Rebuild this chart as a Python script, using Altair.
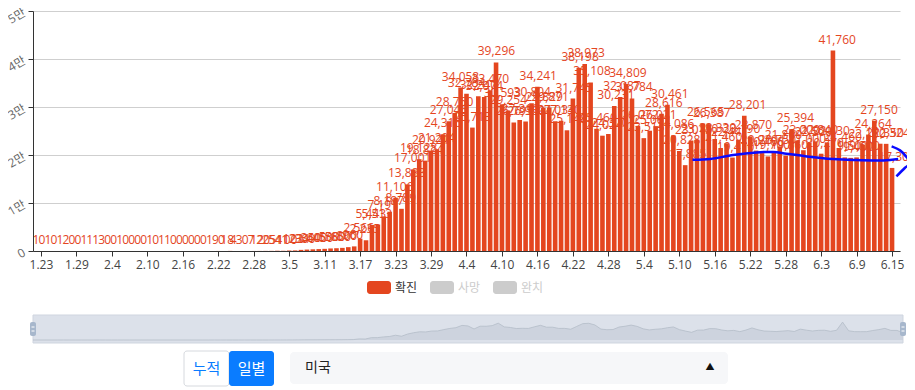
import altair as alt
import pandas as pd

# ---------------- data ----------------
tick_labels = ["1.23", "1.29", "2.4", "2.10", "2.16", "2.22", "2.28", "3.5", "3.11",
               "3.17", "3.23", "3.29", "4.4", "4.10", "4.16", "4.22", "4.28", "5.4",
               "5.10", "5.16", "5.22", "5.28", "6.3", "6.9", "6.15"]

confirmed = [
    1, 0, 1, 0, 1, 2, 0, 0, 1, 1,
    1, 3, 0, 0, 1, 0, 0, 0, 0, 1,
    0, 1, 1, 0, 0, 0, 0, 0, 0, 1,
    9, 0, 18, 4, 3, 0, 7, 12, 20, 25,
    54, 41, 100, 122, 234, 300, 350, 400, 450, 530,
    580, 650, 800, 960, 2566, 2235, 5443, 5513, 7191, 8187,
    11106, 8789, 13883, 17001, 19128, 18824, 20921, 21204, 24316, 27046,
    28760, 34058, 32784, 25713, 32240, 32074, 33470, 39296, 30593, 29254,
    26795, 27310, 26960, 30804, 34241, 29829, 29871, 27034, 27130, 25148,
    31745, 38198, 38973, 35108, 25460, 24024, 24370, 30231, 32087, 34809,
    31784, 26072, 23513, 25062, 26021, 28616, 30461, 24086, 20828, 17885,
    23015, 23180, 26565, 26387, 23330, 21460, 22441, 19470, 23190, 28201,
    23870, 20920, 20400, 19700, 20750, 21800, 19860, 25394, 23000, 21000,
    22500, 22840, 20270, 22630, 41760, 21460, 19500, 19400, 19500, 22150,
    24264, 27150, 22350, 22324, 17307,
]

# hand-drawn blue annotation (day index, value, stroke id)
note_x = [109.8, 112.8, 116.6, 120.5, 123.3, 125.5, 128.9, 133.3, 136.7, 141.7, 144.2,
          143.1, 144.5, 145.5, 146.2, 145.3, 143.9]
note_y = [19020, 19170, 20000, 20540, 20625, 20270, 19710, 19170, 18960, 18875, 19170,
          21790, 20960, 19710, 18330, 17290, 15540]
note_stroke = [0] * 11 + [1] * 6

legend_names = ["확진", "사망", "완치"]
button_names = ["누적", "일별"]
country = "미국"

# ---------------- styles ----------------
RED = "#e4461f"
FONT = "Noto Sans CJK KR"
NUMFONT = "Open Sans, Noto Sans CJK KR"
W, H = 867, 240

n = len(confirmed)
bars_df = pd.DataFrame({"idx": list(range(n)), "value": confirmed})
note_df = pd.DataFrame({"x": note_x, "y": note_y, "s": note_stroke,
                        "o": list(range(len(note_x)))})
one = pd.DataFrame({"k": [0]})

x_scale = alt.Scale(domain=[-0.5, n - 0.5], nice=False, zero=False)
y_scale = alt.Scale(domain=[0, 50000], nice=False)

label_arr = "[" + ",".join("'%s'" % t for t in tick_labels) + "]"

bars = alt.Chart(bars_df).mark_bar(size=4.6, color=RED).encode(
    x=alt.X("idx:Q", scale=x_scale,
            axis=alt.Axis(values=list(range(0, n, 6)), labelExpr=label_arr + "[datum.value / 6]",
                          title=None, grid=False, domainColor="#333", tickColor="#333",
                          labelColor="#444", labelFont=NUMFONT, labelFontSize=12,
                          labelPadding=3, tickSize=5, labelFlush=False, labelOverlap=False)),
    y=alt.Y("value:Q", scale=y_scale,
            axis=alt.Axis(values=[0, 10000, 20000, 30000, 40000, 50000],
                          labelExpr="datum.value == 0 ? '0' : (datum.value / 10000) + '만'",
                          title=None, grid=True, gridColor="#cfcfcf", domainColor="#333",
                          tickColor="#333", labelColor="#666", labelFont=NUMFONT,
                          labelFontSize=12, labelAngle=330, labelPadding=4, tickSize=5,
                          labelFlush=False)),
)

labels = alt.Chart(bars_df).mark_text(
    color=RED, font=NUMFONT, fontSize=12, baseline="bottom", dy=-4
).encode(
    x=alt.X("idx:Q", scale=x_scale, axis=None),
    y=alt.Y("value:Q", scale=y_scale, axis=None),
    text=alt.Text("value:Q", format=","),
)

note = alt.Chart(note_df).mark_line(
    color="#0a0aff", strokeWidth=2.5, interpolate="catmull-rom", clip=False
).encode(
    x=alt.X("x:Q", scale=x_scale, axis=None),
    y=alt.Y("y:Q", scale=y_scale, axis=None),
    detail="s:N",
    order="o:Q",
)

# legend (drawn)
legend_layers = []
legend_rect_colors = [RED, "#cccccc", "#cccccc"]
legend_text_colors = ["#333333", "#cccccc", "#cccccc"]
for i, name in enumerate(legend_names):
    x0 = 334 + 63 * i
    legend_layers.append(
        alt.Chart(one).mark_rect(color=legend_rect_colors[i], cornerRadius=3).encode(
            x=alt.value(x0), x2=alt.value(x0 + 24), y=alt.value(270), y2=alt.value(283)))
    legend_layers.append(
        alt.Chart(one).mark_text(text=name, color=legend_text_colors[i], font=FONT,
                                 fontSize=12, align="left", baseline="middle").encode(
            x=alt.value(x0 + 28), y=alt.value(276.5)))

# dataZoom slider
slider_bg = alt.Chart(one).mark_rect(fill="#dce1ea", stroke="#cfd5df", strokeWidth=1).encode(
    x=alt.value(0), x2=alt.value(870), y=alt.value(304), y2=alt.value(332))
slider_area = alt.Chart(bars_df).mark_area(
    color="#c6cdd8", line={"color": "#b4bcc8", "strokeWidth": 0.8}
).encode(
    x=alt.X("idx:Q", scale=alt.Scale(domain=[0, n - 1], range=[0, 870], nice=False, zero=False), axis=None),
    y=alt.Y("value:Q", scale=alt.Scale(domain=[0, 42000], range=[329, 311], nice=False), axis=None),
)
handles = []
for hx in [0, 870]:
    handles.append(alt.Chart(one).mark_rect(fill="#a7b7cc", cornerRadius=2).encode(
        x=alt.value(hx - 3), x2=alt.value(hx + 3), y=alt.value(311), y2=alt.value(325)))
    handles.append(alt.Chart(one).mark_rule(color="#ffffff", strokeWidth=1).encode(
        x=alt.value(hx - 1.5), x2=alt.value(hx + 1.5), y=alt.value(316)))
    handles.append(alt.Chart(one).mark_rule(color="#ffffff", strokeWidth=1).encode(
        x=alt.value(hx - 1.5), x2=alt.value(hx + 1.5), y=alt.value(320)))

# buttons and dropdown
btn_layers = [
    alt.Chart(one).mark_rect(fill="#ffffff", stroke="#d6d9de", strokeWidth=1, cornerRadius=3).encode(
        x=alt.value(151), x2=alt.value(196), y=alt.value(340), y2=alt.value(375)),
    alt.Chart(one).mark_rect(fill="#0a7cff", cornerRadius=3).encode(
        x=alt.value(196), x2=alt.value(241), y=alt.value(340), y2=alt.value(375)),
    alt.Chart(one).mark_text(text=button_names[0], color="#0a7cff", font=FONT, fontSize=15,
                             align="center", baseline="middle").encode(
        x=alt.value(173.5), y=alt.value(357.5)),
    alt.Chart(one).mark_text(text=button_names[1], color="#ffffff", font=FONT, fontSize=15,
                             align="center", baseline="middle").encode(
        x=alt.value(218.5), y=alt.value(357.5)),
    alt.Chart(one).mark_rect(fill="#f6f7f9", cornerRadius=4).encode(
        x=alt.value(257), x2=alt.value(695), y=alt.value(341), y2=alt.value(373)),
    alt.Chart(one).mark_text(text=country, color="#222222", font=FONT, fontSize=14,
                             align="left", baseline="middle").encode(
        x=alt.value(272), y=alt.value(357)),
    alt.Chart(one).mark_text(text="▲", color="#111111", font=FONT, fontSize=9,
                             align="center", baseline="middle").encode(
        x=alt.value(677), y=alt.value(356)),
]

chart = alt.layer(
    bars, labels, note, *legend_layers, slider_bg, slider_area, *handles, *btn_layers
).resolve_scale(
    x="independent", y="independent"
).properties(
    width=W, height=H,
    autosize=alt.AutoSizeParams(type="none"),
    padding={"left": 25, "top": 3, "right": 7, "bottom": 137},
).configure_view(stroke=None)

chart.save("out.html", embed_options={"renderer": "svg", "actions": False})
